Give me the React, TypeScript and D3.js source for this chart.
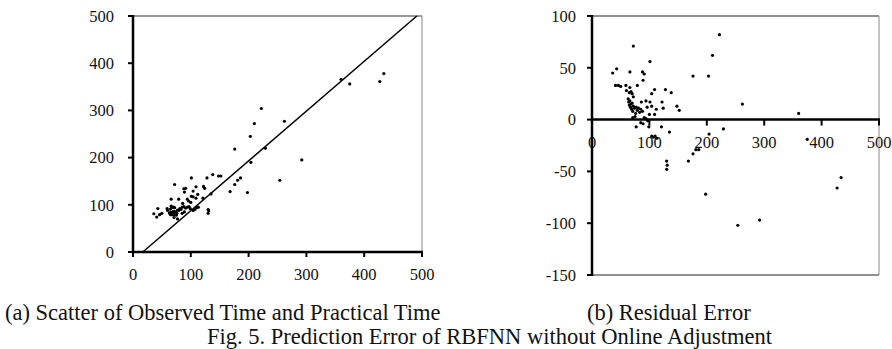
import React from 'react';
import * as d3 from 'd3';

// samples: observed time, practical time, residual
const observed = [
  36, 43, 66, 72, 101, 88, 91, 89, 176, 203, 210, 222,
  41, 46, 50, 59, 66, 79, 60, 65, 68, 104, 109, 128, 138,
  94, 101, 104, 122, 124, 148, 152, 109, 112,
  63, 64, 65, 66, 67, 68, 69, 70, 71, 72, 74, 76, 77, 79, 81, 83, 85, 88,
  71, 75, 91, 94, 72, 70,
  77, 85, 89, 97, 99, 121, 135, 104, 107, 110, 113, 204, 229,
  130, 131, 130, 168, 176, 181, 186, 198, 254, 292,
  262, 360, 375, 427, 434, 96, 100, 86,
];
const practical = [
  81, 92, 112, 143, 157, 134, 135, 127, 218, 245, 272, 304,
  74, 79, 82, 92, 97, 112, 88, 91, 95, 129, 138, 157, 164,
  112, 118, 117, 139, 135, 161, 161, 114, 122,
  83, 81, 79, 84, 79, 83, 79, 86, 79, 85, 85, 82, 89, 88, 92, 90, 95, 96,
  73, 78, 93, 95, 94, 95,
  70, 82, 85, 96, 92, 114, 123, 88, 90, 94, 95, 190, 220,
  90, 87, 82, 128, 143, 152, 157, 126, 152, 195,
  277, 366, 356, 361, 378, 108, 105, 103,
];
const residual = [
  45, 49, 46, 71, 56, 46, 44, 38, 42, 42, 62, 82,
  33, 33, 32, 33, 31, 33, 28, 26, 27, 25, 29, 29, 26,
  18, 17, 13, 17, 11, 13, 9, 5, 10,
  20, 17, 14, 18, 12, 15, 10, 16, 8, 13, 11, 6, 12, 9, 11, 7, 10, 8,
  2, 3, 2, 1, 22, 25,
  -7, -3, -4, -1, -7, -7, -12, -16, -17, -16, -18, -14, -9,
  -40, -44, -48, -40, -33, -29, -29, -72, -102, -97,
  15, 6, -19, -66, -56, 12, 5, 17,
];

// fitted line in (a)
const fitX = [17, 491];
const fitY = [0, 500];

const ticksA = [0, 100, 200, 300, 400, 500];
const ticksBy = [100, 50, 0, -50, -100, -150];

const W = 892;
const H = 349;

export default function App() {
  // chart (a)
  const xa = d3.scaleLinear().domain([0, 500]).range([133, 422]);
  const ya = d3.scaleLinear().domain([0, 500]).range([252, 16]);
  // chart (b)
  const xb = d3.scaleLinear().domain([0, 500]).range([592, 879]);
  const yb = d3.scaleLinear().domain([-150, 100]).range([275, 16]);

  const fitLine = d3.line<number>()
    .x((_, i) => xa(fitX[i]))
    .y(d => ya(d));

  const tickFont = 'Liberation Serif, Times New Roman, serif';

  return (
    <svg width={W} height={H} style={{ position: 'absolute', left: 0, top: 0 }}
      fontFamily={tickFont}>
      <rect width={W} height={H} fill="#fff" />

      {/* ---- (a) scatter ---- */}
      <line x1={xa(0)} x2={xa(500)} y1={ya(500)} y2={ya(500)} stroke="#333" strokeWidth={1} />
      <line x1={xa(500)} x2={xa(500)} y1={ya(500)} y2={ya(0)} stroke="#888" strokeWidth={1} />
      {observed.map((v, i) => (
        <circle key={`a-${i}`} cx={xa(v)} cy={ya(practical[i])} r={1.6} fill="#000" />
      ))}
      <path d={fitLine(fitY) || ''} fill="none" stroke="#000" strokeWidth={1.5} />
      <line x1={xa(0)} x2={xa(0)} y1={ya(500) - 1} y2={ya(0) + 1} stroke="#000" strokeWidth={2.5} />
      <line x1={xa(0) - 1} x2={xa(500) + 1} y1={ya(0)} y2={ya(0)} stroke="#000" strokeWidth={2.5} />
      {ticksA.map(t => (
        <g key={`ay-${t}`}>
          <line x1={xa(0) - 5} x2={xa(0)} y1={ya(t)} y2={ya(t)} stroke="#000" strokeWidth={2} />
          <text x={114} y={ya(t)} dy="0.35em" textAnchor="end" fontSize={16.5} fill="#111">{t}</text>
        </g>
      ))}
      {ticksA.map(t => (
        <g key={`ax-${t}`}>
          <line x1={xa(t)} x2={xa(t)} y1={ya(0)} y2={ya(0) + 5} stroke="#000" strokeWidth={2} />
          <text x={xa(t)} y={280} textAnchor="middle" fontSize={16.5} fill="#111">{t}</text>
        </g>
      ))}

      {/* ---- (b) residual ---- */}
      <line x1={xb(0)} x2={xb(500)} y1={yb(100)} y2={yb(100)} stroke="#222" strokeWidth={1} />
      <line x1={xb(0)} x2={xb(500)} y1={yb(-150)} y2={yb(-150)} stroke="#222" strokeWidth={1} />
      <line x1={xb(500)} x2={xb(500)} y1={yb(100)} y2={yb(-150)} stroke="#888" strokeWidth={1} />
      <line x1={xb(0)} x2={xb(500) + 1} y1={yb(0)} y2={yb(0)} stroke="#000" strokeWidth={2.5} />
      {ticksA.map(t => (
        <g key={`bx-${t}`}>
          <line x1={xb(t)} x2={xb(t)} y1={yb(0)} y2={yb(0) + 6} stroke="#000" strokeWidth={2} />
          <text x={xb(t)} y={148} textAnchor="middle" fontSize={16.5} fill="#111">{t}</text>
        </g>
      ))}
      {observed.map((v, i) => (
        <circle key={`b-${i}`} cx={xb(v)} cy={yb(residual[i])} r={1.6} fill="#000" />
      ))}
      <line x1={xb(0)} x2={xb(0)} y1={yb(100) - 1} y2={yb(-150) + 1} stroke="#000" strokeWidth={2.5} />
      {ticksBy.map(t => (
        <g key={`by-${t}`}>
          <line x1={xb(0) - 5} x2={xb(0)} y1={yb(t)} y2={yb(t)} stroke="#000" strokeWidth={2} />
          <text x={576} y={yb(t)} dy="0.35em" textAnchor="end" fontSize={16.5} fill="#111">{t}</text>
        </g>
      ))}

      {/* ---- captions ---- */}
      <text x={5} y={320} fontSize={22.5} fill="#111">(a) Scatter of Observed Time and Practical Time</text>
      <text x={587} y={320} fontSize={22.5} fill="#111">(b) Residual Error</text>
      <text x={207} y={344} fontSize={22.5} fill="#111">Fig. 5. Prediction Error of RBFNN without Online Adjustment</text>
    </svg>
  );
}
